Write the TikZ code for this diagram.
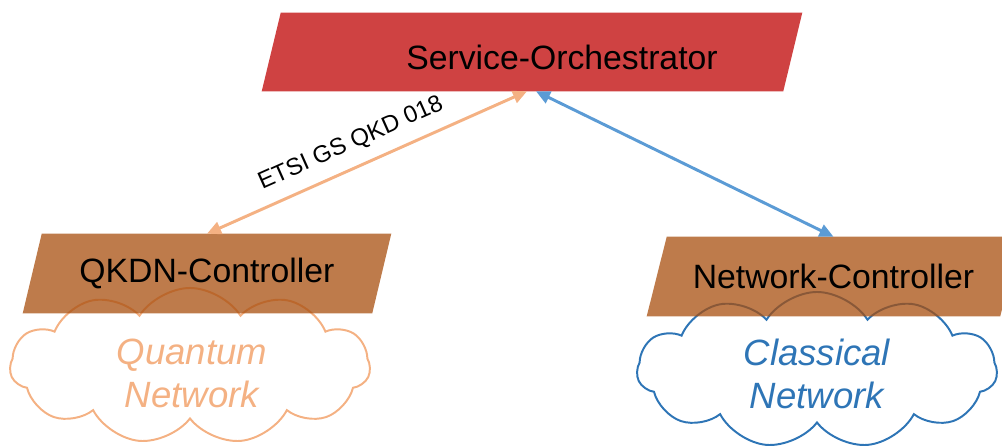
\documentclass[tikz,border=0pt]{standalone}
\usepackage{fontspec}
\setmainfont{Liberation Sans}
\usetikzlibrary{shapes.symbols,arrows.meta,calc}

\definecolor{soRed}{RGB}{207,66,66}
\definecolor{ctrlBrown}{RGB}{168,79,15}
\definecolor{qOrange}{RGB}{244,177,131}
\definecolor{linkBlue}{RGB}{91,155,213}
\definecolor{netBlue}{RGB}{46,117,182}

\pgfdeclarelayer{back}
\pgfdeclarelayer{mid}
\pgfsetlayers{back,mid,main}

% parallelogram behind a rectangle node: #1 node, #2 fill options, #3 half slant
\newcommand{\slantfill}[3]{%
  \begin{pgfonlayer}{mid}
    \fill[#2] ([xshift=-#3]#1.south west) -- ([xshift=#3]#1.north west)
      -- ([xshift=#3]#1.north east) -- ([xshift=-#3]#1.south east) -- cycle;
  \end{pgfonlayer}}

\tikzset{
  boxfont/.style={font=\fontsize{24}{28}\selectfont},
  ctrlbox/.style={boxfont, inner sep=0pt, minimum width=349*0.025cm, minimum height=79*0.025cm},
  netcloud/.style={cloud, cloud puffs=11, cloud puff arc=115, aspect=2.3,
    line width=1.4pt, minimum width=9cm, minimum height=3.9cm, inner sep=0pt},
  cloudtext/.style={align=center, font=\fontsize{26}{30.5}\selectfont\itshape},
  link/.style={line width=2.1pt, {Triangle[length=10pt,width=9pt]}-{Triangle[length=10pt,width=9pt]}}
}

\begin{document}
\begin{tikzpicture}[x=0.025cm, y=-0.025cm]
  \useasboundingbox (0,0) rectangle (1002,446);

  % networks below the controllers
  \begin{pgfonlayer}{back}
    \node[netcloud, draw=qOrange] (qcloud) at (190,366) {};
    \node[netcloud, draw=netBlue] (ccloud) at (817,370) {};
  \end{pgfonlayer}
  \node[cloudtext, text=qOrange] (qlabel) at ($(qcloud.center)+(2,7)$) {Quantum\\Network};
  \node[cloudtext, text=netBlue] (clabel) at ($(ccloud.center)+(0,4)$) {Classical\\Network};

  % controllers and orchestrator
  \node[ctrlbox] (qkdn) at (207,273.5) {QKDN-Controller};
  \node[ctrlbox, minimum width=353*0.025cm] (nc) at (833.5,276.5) {Network-Controller};
  \node[inner sep=0pt, minimum width=521*0.025cm, minimum height=78*0.025cm] (so) at (532,52) {};
  \node[boxfont] (sotitle) at ($(so.center)+(30,5)$) {Service-Orchestrator};
  \slantfill{qkdn}{ctrlBrown, fill opacity=0.75}{9.5*0.025cm}
  \slantfill{nc}{ctrlBrown, fill opacity=0.75}{10*0.025cm}
  \slantfill{so}{soRed}{9.5*0.025cm}

  % interfaces
  \draw[link, qOrange] (qkdn.north) -- node[pos=0.48, sloped, above=5pt, text=black,
    font=\fontsize{17}{20}\selectfont] (etsi) {ETSI GS QKD 018} ([xshift=-5*0.025cm]so.south);
  \draw[link, linkBlue] ([xshift=4*0.025cm]so.south) -- (nc.north);
\end{tikzpicture}
\end{document}
